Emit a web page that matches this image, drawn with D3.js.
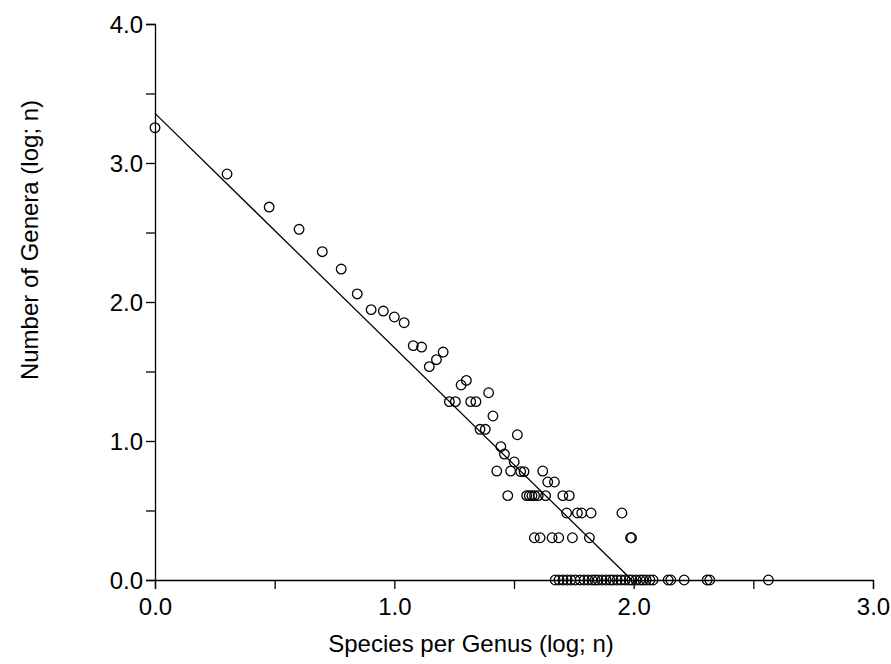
<!DOCTYPE html>
<html>
<head>
<meta charset="utf-8">
<script src="https://cdn.jsdelivr.net/npm/d3@7"></script>
<style>
  body { margin: 0; background: #fff; }
  svg { display: block; font-family: "Liberation Sans", Arial, sans-serif; }
  .axis path, .axis line { stroke: #000; stroke-width: 1.3; }
  .axis text { font-size: 24px; fill: #000; font-family: "Liberation Sans", Arial, sans-serif; }
</style>
</head>
<body>
<div id="chart"></div>
<script>
// log10 species per genus (x) and log10 number of genera (y)
var speciesLog = [
  0.000, 0.301, 0.477, 0.602, 0.699, 0.778, 0.845, 0.903, 0.954, 1.000,
  1.041, 1.079, 1.114, 1.146, 1.176, 1.204, 1.230, 1.255, 1.279, 1.301,
  1.319, 1.341, 1.394, 1.358, 1.380, 1.412, 1.445, 1.460, 1.501, 1.514,
  1.428, 1.486, 1.528, 1.542, 1.620, 1.641, 1.669,
  1.474, 1.553, 1.564, 1.575, 1.586, 1.601, 1.632, 1.704, 1.731,
  1.720, 1.765, 1.783, 1.822, 1.951,
  1.585, 1.609, 1.659, 1.687, 1.744, 1.815, 1.987, 1.991,
  1.672, 1.688, 1.705, 1.722, 1.738, 1.755, 1.776, 1.793, 1.809, 1.826,
  1.839, 1.851, 1.868, 1.885, 1.901, 1.914, 1.931, 1.947, 1.964, 1.981,
  1.993, 2.010, 2.027, 2.039, 2.052, 2.068, 2.081,
  2.144, 2.155, 2.211, 2.307, 2.318, 2.563
];
var generaLog = [
  3.254, 2.921, 2.683, 2.523, 2.362, 2.237, 2.058, 1.945, 1.935, 1.892,
  1.851, 1.686, 1.676, 1.535, 1.585, 1.640, 1.283, 1.283, 1.403, 1.436,
  1.283, 1.283, 1.347, 1.084, 1.084, 1.180, 0.959, 0.906, 0.849, 1.045,
  0.784, 0.784, 0.780, 0.780, 0.784, 0.705, 0.705,
  0.607, 0.607, 0.607, 0.607, 0.607, 0.607, 0.607, 0.607, 0.607,
  0.482, 0.482, 0.482, 0.482, 0.482,
  0.304, 0.304, 0.304, 0.304, 0.304, 0.304, 0.304, 0.304,
  0, 0, 0, 0, 0, 0, 0, 0, 0, 0,
  0, 0, 0, 0, 0, 0, 0, 0, 0, 0,
  0, 0, 0, 0, 0, 0, 0,
  0, 0, 0, 0, 0, 0
];

// fitted regression line
var fitIntercept = 3.357;
var fitSlope = -1.685;

var xTicks = [0, 0.5, 1, 1.5, 2, 2.5, 3];
var yTicks = [0, 0.5, 1, 1.5, 2, 2.5, 3, 3.5, 4];

var width = 891, height = 664;

var svg = d3.select("#chart").append("svg")
  .attr("width", width)
  .attr("height", height);

var x = d3.scaleLinear().domain([0, 3]).range([155, 873]);
var y = d3.scaleLinear().domain([0, 4]).range([580, 24]);

// only whole numbers get a label
var fmt = d => (d % 1 === 0 ? d3.format(".1f")(d) : "");

svg.append("g")
  .attr("class", "axis")
  .attr("transform", "translate(0," + y(0) + ")")
  .call(d3.axisBottom(x).tickValues(xTicks).tickFormat(fmt).tickSizeOuter(0).tickSize(9).tickPadding(9));

var yAxis = svg.append("g")
  .attr("class", "axis")
  .attr("transform", "translate(" + x(0) + ",0)")
  .call(d3.axisLeft(y).tickValues(yTicks).tickFormat(fmt).tickSizeOuter(0).tickSize(9).tickPadding(3));

yAxis.selectAll("text").attr("dy", "0.36em");

// regression line, drawn from x = 0 down to where it meets y = 0
var xEnd = -fitIntercept / fitSlope;
svg.append("line")
  .attr("x1", x(0))
  .attr("y1", y(fitIntercept))
  .attr("x2", x(xEnd))
  .attr("y2", y(0))
  .attr("stroke", "#000")
  .attr("stroke-width", 1.3);

var points = d3.zip(speciesLog, generaLog);

svg.append("g")
  .selectAll("circle")
  .data(points)
  .enter()
  .append("circle")
    .attr("cx", d => x(d[0]))
    .attr("cy", d => y(d[1]))
    .attr("r", 4.8)
    .attr("fill", "none")
    .attr("stroke", "#000")
    .attr("stroke-width", 1.3);

svg.append("text")
  .attr("x", 471)
  .attr("y", 652)
  .attr("text-anchor", "middle")
  .attr("font-size", 24)
  .text("Species per Genus (log; n)");

svg.append("text")
  .attr("transform", "translate(38,240) rotate(-90)")
  .attr("text-anchor", "middle")
  .attr("font-size", 24)
  .text("Number of Genera (log; n)");
</script>
</body>
</html>
